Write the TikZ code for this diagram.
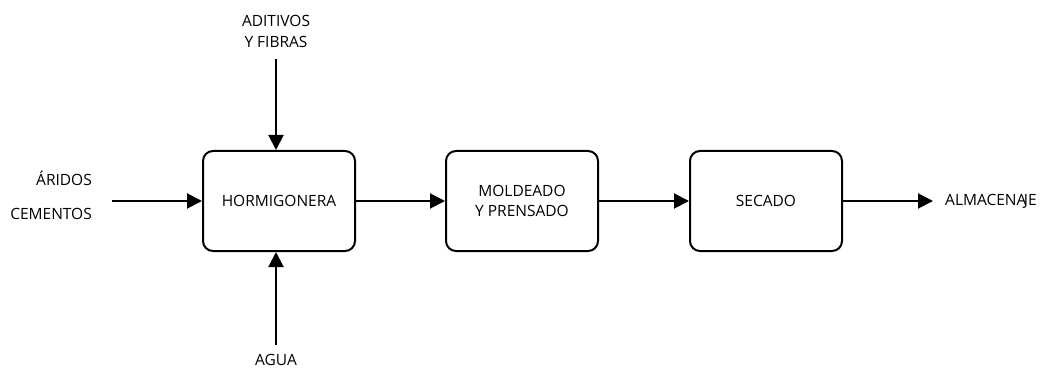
\documentclass[tikz,border=0pt]{standalone}
\usepackage{fontspec}
\setmainfont{Open Sans}
\usetikzlibrary{arrows.meta}
\begin{document}
\begin{tikzpicture}[x=1pt,y=-1pt,
  proc/.style={draw=black,line width=2pt,rounded corners=10pt,minimum width=152pt,minimum height=100pt,align=center,inner sep=0pt,font=\fontsize{15.5}{20}\selectfont},
  lbl/.style={font=\fontsize{15.5}{21}\selectfont,inner sep=0pt,align=center},
  flow/.style={line width=2pt,-{Triangle[length=15pt,width=15pt]}}]
\useasboundingbox (0,0) rectangle (1048,371);
\node[proc] (h) at (279,201) {HORMIGONERA};
\node[proc] (m) at (522,201) {MOLDEADO\\Y PRENSADO};
\node[proc] (s) at (766,201) {SECADO};
\node[lbl] (ad) at (276,31) {ADITIVOS\\Y FIBRAS};
\node[lbl,anchor=east] (ar) at (92,178) {ÁRIDOS};
\node[lbl,anchor=east] (ce) at (92,214) {CEMENTOS};
\node[lbl] (ag) at (276,360) {AGUA};
\node[lbl,anchor=west] (al) at (945,201) {ALMACENA\kern-2.5pt JE};
\coordinate (inl) at (112,201);
\coordinate (top) at (276,59);
\coordinate (bot) at (276,345);
\coordinate (out) at (933,201);
\draw[flow] (inl) -- (h.west);
\draw[flow] (top) -- (top |- h.north);
\draw[flow] (bot) -- (bot |- h.south);
\draw[flow] (h) -- (m);
\draw[flow] (m) -- (s);
\draw[flow] (s.east) -- (out);
\end{tikzpicture}
\end{document}
